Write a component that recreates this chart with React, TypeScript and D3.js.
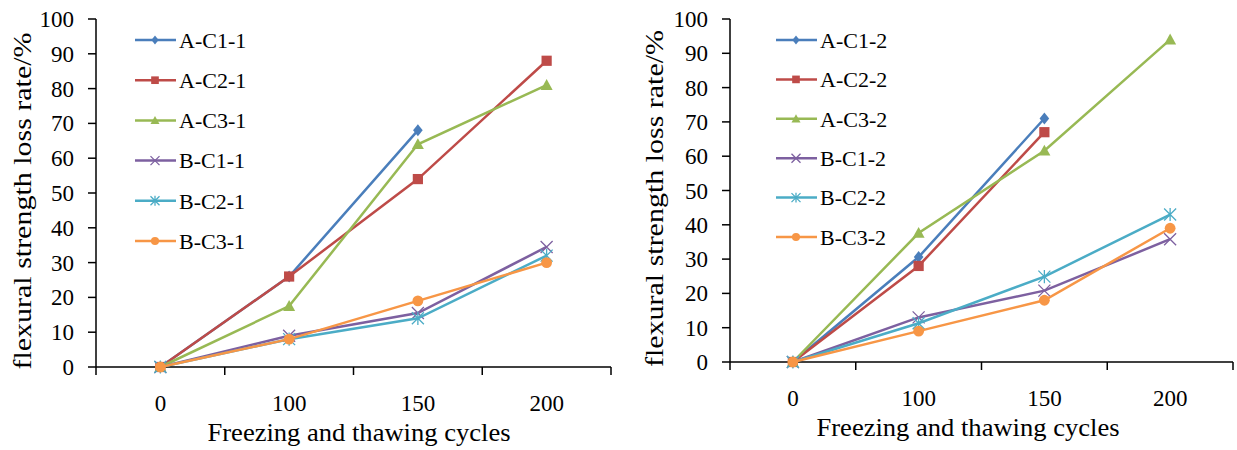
import React from "react";
import * as d3 from "d3";

const categories = ["0", "100", "150", "200"];
const yTicks = [0, 10, 20, 30, 40, 50, 60, 70, 80, 90, 100];

const namesLeft = ["A-C1-1", "A-C2-1", "A-C3-1", "B-C1-1", "B-C2-1", "B-C3-1"];
const namesRight = ["A-C1-2", "A-C2-2", "A-C3-2", "B-C1-2", "B-C2-2", "B-C3-2"];

const left_AC1: (number | null)[] = [0, 26, 68, null];
const left_AC2: (number | null)[] = [0, 26, 54, 88];
const left_AC3: (number | null)[] = [0, 17.5, 64, 81];
const left_BC1: (number | null)[] = [0, 9, 15.5, 34.5];
const left_BC2: (number | null)[] = [0, 8, 14, 32];
const left_BC3: (number | null)[] = [0, 8, 19, 30];

const right_AC1: (number | null)[] = [0, 30.6, 71, null];
const right_AC2: (number | null)[] = [0, 28, 67, null];
const right_AC3: (number | null)[] = [0, 37.6, 61.6, 94];
const right_BC1: (number | null)[] = [0, 13, 20.8, 35.8];
const right_BC2: (number | null)[] = [0, 11.3, 24.9, 43];
const right_BC3: (number | null)[] = [0, 9, 18, 39];

const colors = ["#4A7EBB", "#BE4B48", "#98B954", "#7D60A0", "#4BACC6", "#F79646"];
const markers = ["diamond", "square", "triangle", "x", "star", "circle"];

const FONT = "'Liberation Serif', 'Times New Roman', serif";

function Marker({ type, x, y, color, s }: { type: string; x: number; y: number; color: string; s: number }) {
  switch (type) {
    case "diamond":
      return <path d={`M${x},${y - s}L${x + s * 0.8},${y}L${x},${y + s}L${x - s * 0.8},${y}Z`} fill={color} />;
    case "square":
      return <rect x={x - s * 0.85} y={y - s * 0.85} width={s * 1.7} height={s * 1.7} fill={color} />;
    case "triangle":
      return <path d={`M${x},${y - s}L${x + s},${y + s * 0.8}L${x - s},${y + s * 0.8}Z`} fill={color} />;
    case "x":
      return (
        <path d={`M${x - s},${y - s}L${x + s},${y + s}M${x - s},${y + s}L${x + s},${y - s}`} stroke={color} strokeWidth={1.3} fill="none" />
      );
    case "star":
      return (
        <path
          d={`M${x - s},${y - s}L${x + s},${y + s}M${x - s},${y + s}L${x + s},${y - s}M${x},${y - s * 1.1}L${x},${y + s * 1.1}`}
          stroke={color}
          strokeWidth={1.3}
          fill="none"
        />
      );
    case "circle":
      return <circle cx={x} cy={y} r={s * 0.9} fill={color} />;
  }
  return null;
}

type PanelProps = {
  x0: number;
  x1: number;
  yTop: number;
  yBottom: number;
  series: (number | null)[][];
  names: string[];
  legendX: number;
  legendY: number;
  legendStep: number;
  yTitleX: number;
  xTitleX: number;
};

function Panel({ x0, x1, yTop, yBottom, series, names, legendX, legendY, legendStep, yTitleX, xTitleX }: PanelProps) {
  const xs = d3.scaleBand<string>().domain(categories).range([x0, x1]).padding(0);
  const ys = d3.scaleLinear().domain([0, 100]).range([yBottom, yTop]);
  const cx = (c: string) => (xs(c) ?? 0) + xs.bandwidth() / 2;
  const line = d3
    .line<[string, number | null]>()
    .defined((d) => d[1] !== null)
    .x((d) => cx(d[0]))
    .y((d) => ys(d[1] as number));

  return (
    <g>
      {/* y axis */}
      <line x1={x0} x2={x0} y1={yTop} y2={yBottom} stroke="#000" strokeWidth={1.5} />
      {yTicks.map((t) => (
        <g key={t}>
          <line x1={x0 - 8} x2={x0} y1={ys(t)} y2={ys(t)} stroke="#000" strokeWidth={1.5} />
          <text x={x0 - 22} y={ys(t)} dy="0.35em" textAnchor="end" fontSize={23} fontFamily={FONT}>
            {t}
          </text>
        </g>
      ))}
      {/* x axis */}
      <line x1={x0} x2={x1} y1={yBottom} y2={yBottom} stroke="#000" strokeWidth={1.5} />
      {[...categories.map((c) => xs(c) ?? 0), x1].map((t, i) => (
        <line key={i} x1={t} x2={t} y1={yBottom} y2={yBottom + 8} stroke="#000" strokeWidth={1.5} />
      ))}
      {categories.map((c) => (
        <text key={c} x={cx(c)} y={yBottom + 36} dy="0.35em" textAnchor="middle" fontSize={23} fontFamily={FONT}>
          {c}
        </text>
      ))}
      <text
        x={xTitleX}
        y={yBottom + 65}
        dy="0.35em"
        textAnchor="middle"
        fontSize={26}
        fontFamily={FONT}
        textLength={303}
        lengthAdjust="spacingAndGlyphs"
      >
        Freezing and thawing cycles
      </text>
      <text
        transform={`translate(${yTitleX},${(yTop + yBottom) / 2 + 8}) rotate(-90)`}
        dy="0.35em"
        textAnchor="middle"
        fontSize={26}
        fontFamily={FONT}
        textLength={337}
        lengthAdjust="spacingAndGlyphs"
      >
        flexural strength loss rate/%
      </text>
      {/* series */}
      {series.map((s, i) => {
        const pts = categories.map((c, j) => [c, s[j]] as [string, number | null]);
        return (
          <g key={i}>
            <path d={line(pts) ?? ""} fill="none" stroke={colors[i]} strokeWidth={2.5} />
            {pts
              .filter((p) => p[1] !== null)
              .map((p, j) => (
                <Marker key={j} type={markers[i]} x={cx(p[0])} y={ys(p[1] as number)} color={colors[i]} s={6} />
              ))}
          </g>
        );
      })}
      {/* legend */}
      {names.map((n, i) => {
        const ly = legendY + i * legendStep;
        return (
          <g key={n}>
            <line x1={legendX} x2={legendX + 41} y1={ly} y2={ly} stroke={colors[i]} strokeWidth={2.5} />
            <Marker type={markers[i]} x={legendX + 20} y={ly} color={colors[i]} s={4.5} />
            <text x={legendX + 44} y={ly} dy="0.35em" fontSize={22} fontFamily={FONT}>
              {n}
            </text>
          </g>
        );
      })}
    </g>
  );
}

export default function App() {
  return (
    <svg width={1237} height={450} style={{ position: "absolute", left: 0, top: 0, background: "#fff" }}>
      <rect width={1237} height={450} fill="#fff" />
      <Panel
        x0={96}
        x1={611}
        yTop={19}
        yBottom={367}
        series={[left_AC1, left_AC2, left_AC3, left_BC1, left_BC2, left_BC3]}
        names={namesLeft}
        legendX={135}
        legendY={40}
        legendStep={40.2}
        yTitleX={22}
        xTitleX={359}
      />
      <Panel
        x0={730}
        x1={1233}
        yTop={19}
        yBottom={362}
        series={[right_AC1, right_AC2, right_AC3, right_BC1, right_BC2, right_BC3]}
        names={namesRight}
        legendX={776}
        legendY={40}
        legendStep={39.4}
        yTitleX={654}
        xTitleX={968}
      />
    </svg>
  );
}
